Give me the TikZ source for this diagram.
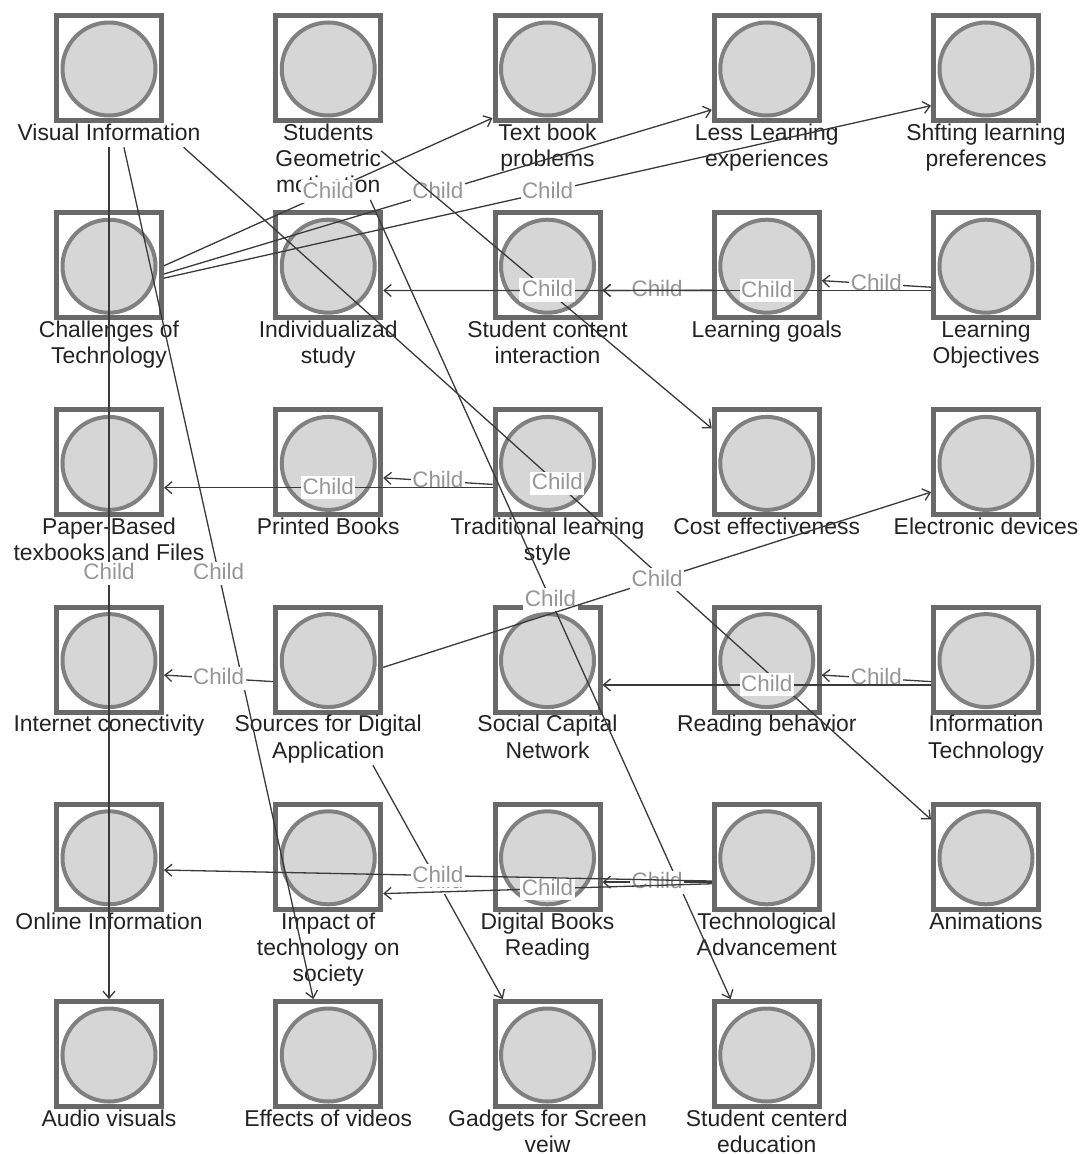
\documentclass[tikz,border=0pt]{standalone}
\usepackage{fontspec}
\setmainfont{Liberation Sans}
\usetikzlibrary{arrows.meta,fit,intersections,calc}
\definecolor{sqgray}{RGB}{105,105,105}
\definecolor{circgray}{RGB}{128,128,128}
\definecolor{circfill}{RGB}{214,214,214}
\definecolor{edgecol}{RGB}{58,58,58}
\definecolor{labcol}{RGB}{150,150,150}
\definecolor{textcol}{RGB}{35,35,35}
\tikzset{
  sqbox/.style={rectangle,draw=sqgray,line width=5pt,minimum width=105pt,minimum height=105pt,inner sep=0pt},
  circbox/.style={circle,draw=circgray,line width=4pt,fill=circfill,minimum size=93pt,inner sep=0pt},
  lbltext/.style={inner sep=0pt,align=center,text=textcol,font={\fontsize{22.9pt}{26.3pt}\selectfont}},
  conn/.style={draw=edgecol,line width=1.3pt,-{Straight Barb[length=7pt,width=12pt,line width=1.3pt]}},
  clab/.style={fill=white,text=labcol,inner xsep=1.5pt,inner ysep=1pt,text height=17pt,text depth=4pt,font={\fontsize{22.4pt}{26pt}\selectfont}}
}
\newcommand{\mkitem}[5]{%
  \node[sqbox] (#1-s) at (#2,#3) {};
  \node[circbox] (#1-c) at (#2,#3+1) {};
  \node[lbltext,anchor=north] (#1-l) at ([yshift=2pt]#1-s.south) {\rule{0pt}{19pt}#5};
  \coordinate (#1-b) at ([yshift={2pt-#4*26.3pt}]#1-s.south);
  \node[fit=(#1-s)(#1-l.west)(#1-l.east)(#1-b),inner sep=0pt] (#1) {};
  \path[name path global=#1-o] (#1-s.north west) -- (#1-s.north east) -- (#1-s.south east)
     -- (#1-s.south east -| #1-l.east) -- (#1-b -| #1-l.east) -- (#1-b -| #1-l.west)
     -- (#1-s.south west -| #1-l.west) -- (#1-s.south west) -- cycle;
}
% #1 = start point (a coordinate inside the source), #2 = source node, #3 = target node
\newcommand{\mkedgefrom}[3]{%
  \path[name path=tmp-#2-#3] (#1) -- (#3.center);
  \path[name intersections={of=tmp-#2-#3 and #2-o,by={#2-#3-a}}];
  \path[name intersections={of=tmp-#2-#3 and #3-o,by={#2-#3-b}}];
  \draw[conn] (#2-#3-a) -- node[clab,midway]{Child} (#2-#3-b);
}
\newcommand{\mkedge}[2]{\mkedgefrom{#1.center}{#1}{#2}}
\begin{document}
\begin{tikzpicture}[x=1pt,y=-1pt]
\fill[white] (0,0) rectangle (1080,1154);
\useasboundingbox (0,0) rectangle (1080,1154);
% row 1
\mkitem{vis}{109}{68}{1}{Visual Information}
\mkitem{sgm}{328.25}{68}{3}{Students\\Geometric\\motivation}
\mkitem{tbp}{547.5}{68}{2}{Text book\\problems}
\mkitem{lle}{766.75}{68}{2}{Less Learning\\experiences}
\mkitem{slp}{986}{68}{2}{Shfting learning\\preferences}
% row 2
\mkitem{cot}{109}{265.2}{2}{Challenges of\\Technology}
\mkitem{ids}{328.25}{265.2}{2}{Individualizad\\study}
\mkitem{sci}{547.5}{265.2}{2}{Student content\\interaction}
\mkitem{lgo}{766.75}{265.2}{1}{Learning goals}
\mkitem{lob}{986}{265.2}{2}{Learning\\Objectives}
% row 3
\mkitem{pbt}{109}{462.4}{2}{Paper-Based\\texbooks and Files}
\mkitem{prb}{328.25}{462.4}{1}{Printed Books}
\mkitem{tls}{547.5}{462.4}{2}{Traditional learning\\style}
\mkitem{cef}{766.75}{462.4}{1}{Cost effectiveness}
\mkitem{eld}{986}{462.4}{1}{Electronic devices}
% row 4
\mkitem{inc}{109}{659.6}{1}{Internet conectivity}
\mkitem{sda}{328.25}{659.6}{2}{Sources for Digital\\Application}
\mkitem{scn}{547.5}{659.6}{2}{Social Capital\\Network}
\mkitem{rbe}{766.75}{659.6}{1}{Reading behavior}
\mkitem{ite}{986}{659.6}{2}{Information\\Technology}
% row 5
\mkitem{oni}{109}{856.8}{1}{Online Information}
\mkitem{its}{328.25}{856.8}{3}{Impact of\\technology on\\society}
\mkitem{dbr}{547.5}{856.8}{2}{Digital Books\\Reading}
\mkitem{tad}{766.75}{856.8}{2}{Technological\\Advancement}
\mkitem{ani}{986}{856.8}{1}{Animations}
% row 6
\mkitem{auv}{109}{1054}{1}{Audio visuals}
\mkitem{eov}{328.25}{1054}{1}{Effects of videos}
\mkitem{gsv}{547.5}{1054}{2}{Gadgets for Screen\\veiw}
\mkitem{sce}{766.75}{1054}{2}{Student centerd\\education}
% start point used by the edges that leave Learning goals
\coordinate (lgo-out) at ([yshift=-13pt]lgo.center);
% edges
\mkedge{cot}{tbp}
\mkedge{cot}{lle}
\mkedge{cot}{slp}
\mkedge{vis}{auv}
\mkedge{vis}{eov}
\mkedge{vis}{ani}
\mkedge{sgm}{cef}
\mkedge{sgm}{sce}
\mkedge{lob}{lgo}
\mkedge{lob}{sci}
\mkedgefrom{lgo-out}{lgo}{sci}
\mkedgefrom{lgo-out}{lgo}{ids}
\mkedge{tls}{prb}
\mkedge{tls}{pbt}
\mkedge{sda}{inc}
\mkedge{sda}{eld}
\mkedge{sda}{gsv}
\mkedge{ite}{rbe}
\mkedge{ite}{scn}
\mkedge{tad}{dbr}
\mkedge{tad}{its}
\mkedge{tad}{oni}
\end{tikzpicture}
\end{document}
